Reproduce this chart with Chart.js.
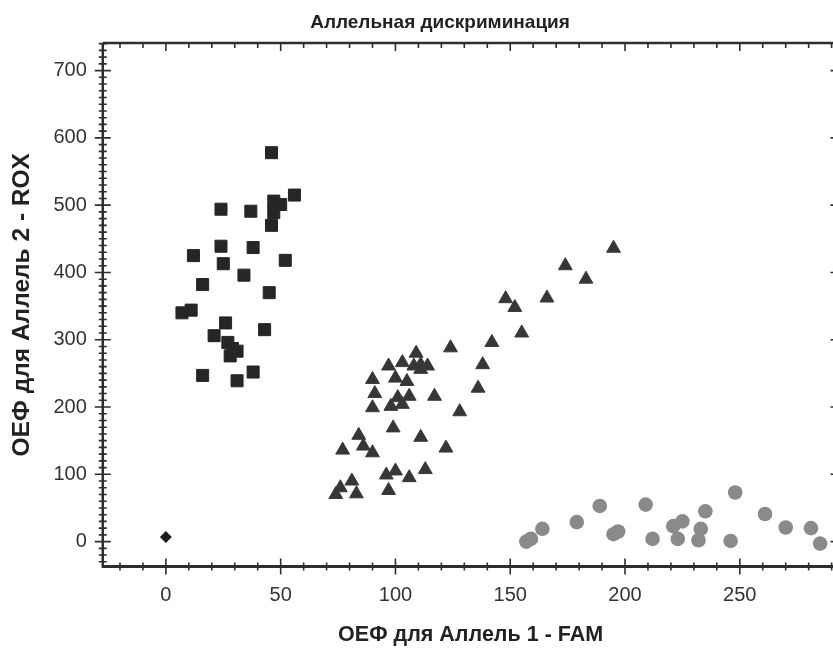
<!DOCTYPE html>
<html>
<head>
<meta charset="utf-8">
<script src="https://cdn.jsdelivr.net/npm/chart.js@4/dist/chart.umd.min.js"></script>
<style>
  html, body { margin: 0; padding: 0; background: #fff; overflow: hidden; }
  #wrap { width: 833px; height: 655px; overflow: hidden; }
  #plot { display: block; }
</style>
</head>
<body>
<div id="wrap"><canvas id="plot" width="848" height="655"></canvas></div>
<script>
// Аллель 2 (ROX) - квадраты
const rox2Fam = [46, 56, 47, 50, 24, 37, 47, 46, 24, 38, 12, 52, 25, 34, 16, 45, 7, 11, 26, 43, 21, 27, 31, 28, 29, 16, 38, 31];
const rox2Rox = [578, 515, 506, 501, 494, 491, 489, 470, 439, 437, 425, 418, 413, 396, 382, 370, 340, 344, 325, 315, 306, 296, 283, 276, 287, 247, 252, 239];

// гетерозиготы - треугольники
const hetFam = [124, 109, 103, 97, 111, 114, 108, 111, 90, 100, 105, 91, 101, 106, 117, 90, 98, 103, 128, 99, 111, 84, 86, 90, 77, 122, 96, 100, 106, 113, 97, 81, 76, 74, 83,
                195, 174, 183, 148, 152, 166, 155, 142, 138, 136];
const hetRox = [288, 280, 266, 261, 263, 261, 261, 256, 241, 243, 238, 220, 214, 216, 216, 199, 201, 204, 193, 169, 155, 158, 142, 132, 136, 139, 99, 105, 95, 107, 76, 90, 80, 70, 71,
                436, 410, 390, 361, 348, 362, 310, 296, 263, 228];

// Аллель 1 (FAM) - круги
const fam1Fam = [157, 159, 164, 179, 189, 195, 197, 209, 212, 221, 225, 223, 235, 233, 232, 248, 246, 261, 270, 281, 285];
const fam1Rox = [0, 4, 19, 29, 53, 11, 15, 55, 4, 23, 30, 4, 45, 19, 2, 73, 1, 41, 21, 20, -3];

// контроль без матрицы
const ntcFam = [0];
const ntcRox = [7];

const xTicks = [0, 50, 100, 150, 200, 250];
const yTicks = [0, 100, 200, 300, 400, 500, 600, 700];

const chartTitle = 'Аллельная дискриминация';
const xTitle = 'ОЕФ для Аллель 1 - FAM';
const yTitle = 'ОЕФ для Аллель 2 - ROX';

const pts = (xs, ys) => xs.map((x, i) => ({ x: x, y: ys[i] }));

const FONT = '"Liberation Sans", Arial, sans-serif';

// рамка и засечки как в программе прибора
const frame = {
  id: 'frame',
  beforeDatasetsDraw(chart) {
    const { ctx, chartArea: a, scales: { x, y } } = chart;
    ctx.save();
    ctx.strokeStyle = '#2e2e2e';
    ctx.lineWidth = 2.5;
    ctx.beginPath();
    ctx.moveTo(a.left, a.top); ctx.lineTo(a.right, a.top);
    ctx.moveTo(a.left, a.top); ctx.lineTo(a.left, a.bottom);
    ctx.moveTo(a.right, a.top); ctx.lineTo(a.right, a.bottom);
    ctx.stroke();
    ctx.lineWidth = 3;
    ctx.beginPath();
    ctx.moveTo(a.left - 1, a.bottom); ctx.lineTo(a.right, a.bottom);
    ctx.stroke();

    ctx.lineWidth = 1.6;
    ctx.beginPath();
    for (let v = Math.ceil(x.min / 10) * 10; v <= x.max; v += 10) {
      const px = x.getPixelForValue(v);
      const big = v % 50 === 0;
      const o = big ? 8 : 4;
      ctx.moveTo(px, a.bottom - o); ctx.lineTo(px, a.bottom + o);
      ctx.moveTo(px, a.top); ctx.lineTo(px, a.top + (big ? 8 : 5));
    }
    for (let v = Math.ceil(y.min / 10) * 10; v <= y.max; v += 10) {
      const py = y.getPixelForValue(v);
      const big = v % 100 === 0;
      const o = big ? 8 : 4;
      ctx.moveTo(a.left - o, py); ctx.lineTo(a.left + o, py);
      ctx.moveTo(a.right, py); ctx.lineTo(a.right - (big ? 8 : 5), py);
    }
    ctx.stroke();

    ctx.fillStyle = '#222';
    ctx.font = 'bold 19px ' + FONT;
    ctx.textAlign = 'center';
    ctx.textBaseline = 'middle';
    ctx.fillText(chartTitle, 440, 23);
    ctx.restore();
  }
};

new Chart(document.getElementById('plot'), {
  type: 'scatter',
  data: {
    datasets: [
      { label: 'Аллель 2', data: pts(rox2Fam, rox2Rox), pointStyle: 'rect', pointRadius: 8.5,
        backgroundColor: '#262626', borderColor: '#262626', borderWidth: 1 },
      { label: 'Гетерозиготы', data: pts(hetFam, hetRox), pointStyle: 'triangle', pointRadius: 8,
        backgroundColor: '#363636', borderColor: '#3a3a3a', borderWidth: 1 },
      { label: 'Аллель 1', data: pts(fam1Fam, fam1Rox), pointStyle: 'circle', pointRadius: 7.3,
        backgroundColor: '#8a8a8a', borderColor: '#8a8a8a', borderWidth: 0 },
      { label: 'NTC', data: pts(ntcFam, ntcRox), pointStyle: 'rectRot', pointRadius: 6,
        backgroundColor: '#1c1c1c', borderColor: '#1c1c1c', borderWidth: 0 }
    ]
  },
  options: {
    responsive: false,
    animation: false,
    layout: { padding: { left: 3, top: 43, right: 2, bottom: 0 } },
    plugins: {
      legend: { display: false },
      tooltip: { enabled: false }
    },
    scales: {
      x: {
        type: 'linear',
        min: -27.5,
        max: 293,
        afterBuildTicks: axis => { axis.ticks = xTicks.map(v => ({ value: v })); },
        grid: { display: false, drawTicks: false },
        border: { display: false },
        ticks: { color: '#333', font: { family: FONT, size: 20 }, padding: 17 },
        title: { display: true, text: xTitle, color: '#222',
                 font: { family: FONT, size: 21.5, weight: 'bold', lineHeight: 1.0 }, padding: { top: 0, bottom: 9 } }
      },
      y: {
        type: 'linear',
        min: -37,
        max: 741,
        afterBuildTicks: axis => { axis.ticks = yTicks.map(v => ({ value: v })); },
        grid: { display: false, drawTicks: false },
        border: { display: false },
        ticks: { color: '#333', font: { family: FONT, size: 20 }, padding: 16 },
        title: { display: true, text: yTitle, color: '#222',
                 font: { family: FONT, size: 24.5, weight: 'bold' }, padding: { top: 5, bottom: 0 } }
      }
    }
  },
  plugins: [frame]
});
</script>
</body>
</html>
